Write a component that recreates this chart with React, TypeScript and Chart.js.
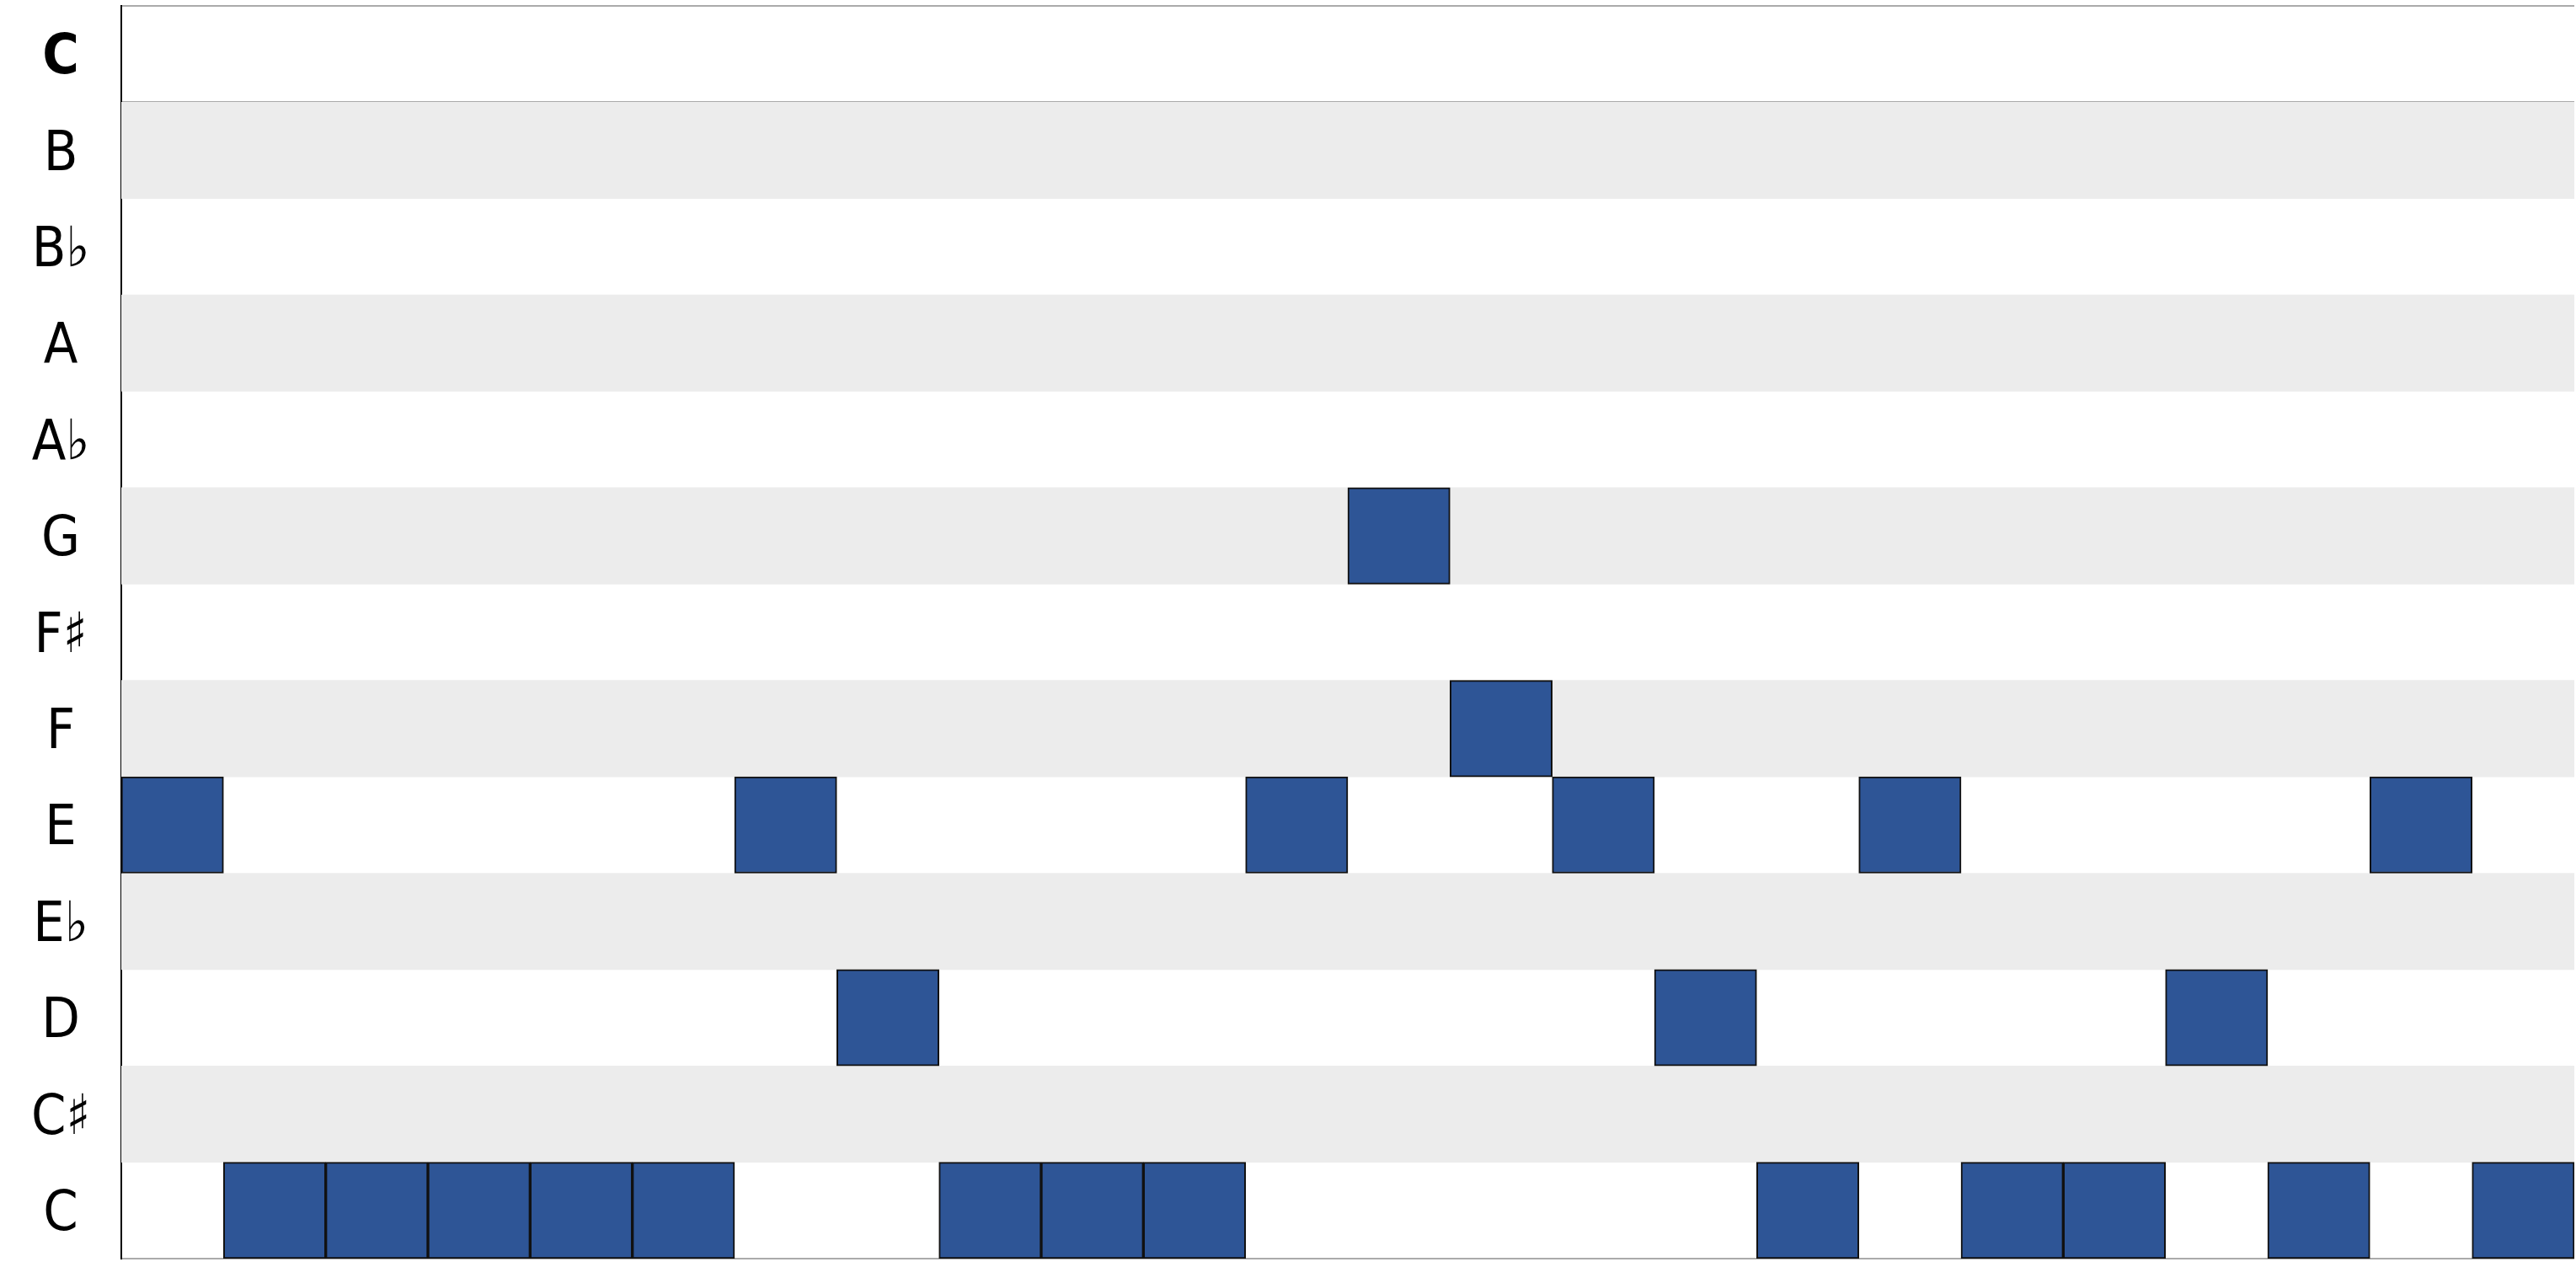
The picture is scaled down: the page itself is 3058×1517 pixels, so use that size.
import React, { useEffect, useRef } from "react";
import { Chart, registerables } from "chart.js";

Chart.register(...registerables);

// Pitch rows, top to bottom
const rowKeys = ["C5", "B4", "Bb4", "A4", "Ab4", "G4", "F#4", "F4", "E4", "Eb4", "D4", "C#4", "C4"];
const rowLabels = ["C", "B", "B♭", "A", "A♭", "G", "F♯", "F", "E", "E♭", "D", "C♯", "C"];
// Rows with grey background
const shadedRows = ["B4", "A4", "G4", "F4", "Eb4", "C#4"];
// Melody: one note per time step
const melody = [
  "E4", "C4", "C4", "C4", "C4", "C4", "E4", "D4", "C4", "C4", "C4", "E4",
  "G4", "F4", "E4", "D4", "C4", "E4", "C4", "C4", "D4", "C4", "E4", "C4",
];
const totalSteps = 24;

const FONT_FAMILY = "'DejaVu Sans Condensed', 'DejaVu Sans', Roboto, sans-serif";
const FONT_SIZE = 66;
const AXIS_WIDTH = 144;

export default function App() {
  const canvasRef = useRef<HTMLCanvasElement | null>(null);

  useEffect(() => {
    document.body.style.margin = "0";
    document.body.style.overflow = "hidden";
    const canvas = canvasRef.current;
    if (!canvas) return;

    // measure widest label so labels can be centred in the axis band
    const mctx = document.createElement("canvas").getContext("2d")!;
    mctx.font = `normal ${FONT_SIZE}px ${FONT_FAMILY}`;
    let widest = 0;
    rowLabels.forEach((l) => {
      widest = Math.max(widest, mctx.measureText(l).width);
    });
    const tickPad = Math.max(0, AXIS_WIDTH / 2 - widest / 2);

    const noteData = melody.map((p, i) => ({ x: [i, i + 1], y: p }));
    const bandData = shadedRows.map((r) => ({ x: [0, totalSteps], y: r }));

    const chart = new Chart(canvas, {
      type: "bar",
      data: {
        labels: rowKeys,
        datasets: [
          {
            label: "notes",
            data: noteData as any,
            backgroundColor: "#2e5596",
            borderColor: "#111111",
            borderWidth: 2,
            borderSkipped: false,
            grouped: false,
            categoryPercentage: 1,
            barPercentage: 1,
          } as any,
          {
            label: "bands",
            data: bandData as any,
            backgroundColor: "#ececec",
            borderWidth: 0,
            grouped: false,
            categoryPercentage: 1,
            barPercentage: 1,
          } as any,
        ],
      },
      options: {
        indexAxis: "y",
        animation: false,
        responsive: true,
        maintainAspectRatio: false,
        layout: { padding: { top: 7, bottom: 23, left: 0, right: 2 } },
        plugins: {
          legend: { display: false },
          tooltip: { enabled: false },
        },
        scales: {
          x: {
            type: "linear",
            min: 0,
            max: totalSteps,
            display: false,
          },
          y: {
            type: "category",
            labels: rowKeys,
            offset: true,
            afterFit: (scale: any) => {
              scale.width = AXIS_WIDTH;
              scale.paddingTop = 0;
              scale.paddingBottom = 0;
            },
            grid: {
              offset: true,
              drawTicks: false,
              lineWidth: 2,
              color: (ctx: any) =>
                ctx.type !== "tick" || ctx.index <= 1 ? "#ababab" : "rgba(0,0,0,0)",
            },
            border: { display: true, color: "#000000", width: 2 },
            ticks: {
              crossAlign: "center",
              padding: tickPad,
              labelOffset: 6,
              color: "#000000",
              callback: (_v: any, i: number) => rowLabels[i],
              font: (ctx: any) => ({
                family: FONT_FAMILY,
                size: FONT_SIZE,
                weight: ctx.index === 0 ? "bold" : "normal",
              }),
            },
          },
        },
      },
    });

    return () => chart.destroy();
  }, []);

  return (
    <div style={{ position: "relative", width: "3058px", height: "1517px" }}>
      <canvas ref={canvasRef} />
    </div>
  );
}
